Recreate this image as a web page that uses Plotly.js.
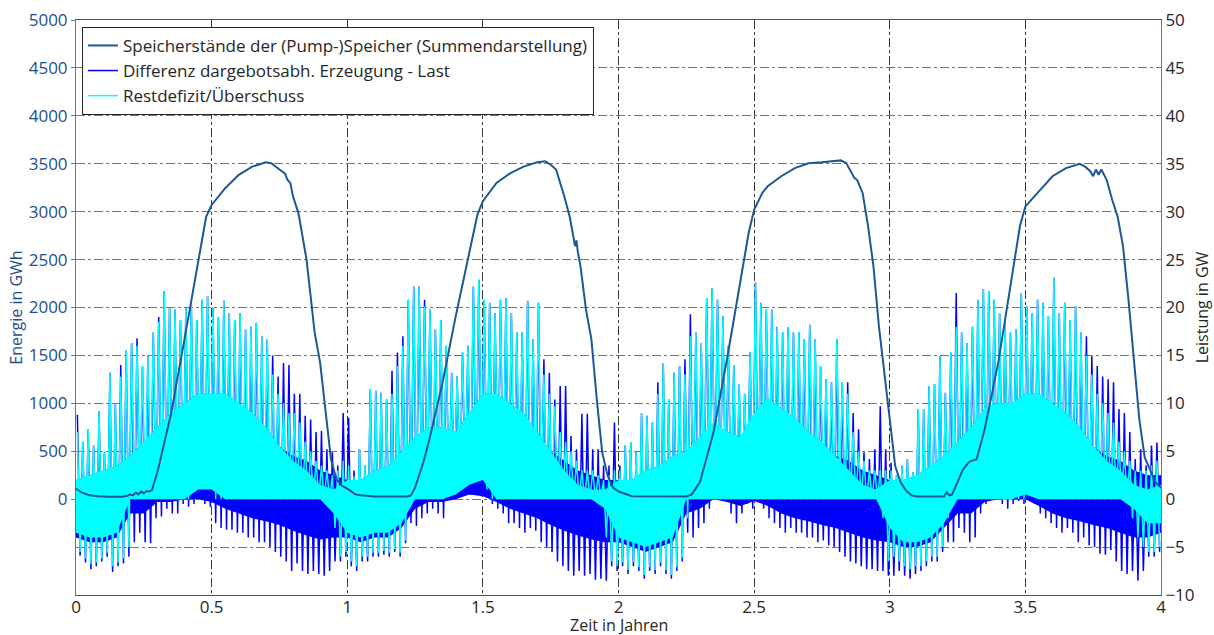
<!DOCTYPE html>
<html><head><meta charset="utf-8">
<script src="https://cdn.plot.ly/plotly-3.0.1.min.js"></script>
<style>html,body{margin:0;padding:0;background:#fff;}#chart{width:1214px;height:635px;}</style>
</head><body><div id="chart"></div>
<script>
// ---- Storage level (left axis, GWh) ----
const storageYears = [0,0.02,0.05,0.08,0.12,0.17,0.19,0.2,0.21,0.22,0.23,0.24,0.25,0.26,0.27,0.28,0.3,0.33,0.35,0.4,0.45,0.48,0.5,0.55,0.6,0.65,0.7,0.72,0.75,0.77,0.78,0.79,0.8,0.82,0.85,0.88,0.9,0.92,0.94,0.96,0.98,
1.0,1.03,1.05,1.1,1.22,1.235,1.25,1.28,1.3,1.35,1.4,1.45,1.48,1.5,1.55,1.6,1.65,1.7,1.73,1.75,1.77,1.8,1.82,1.84,1.845,1.85,1.86,1.88,1.9,1.92,1.94,1.96,1.98,
2.0,2.03,2.05,2.25,2.27,2.3,2.33,2.35,2.4,2.45,2.48,2.5,2.53,2.55,2.6,2.65,2.7,2.75,2.8,2.82,2.84,2.86,2.87,2.88,2.9,2.92,2.94,2.96,2.98,3.0,3.02,3.04,3.06,
3.08,3.1,3.2,3.21,3.22,3.23,3.25,3.27,3.29,3.3,3.32,3.35,3.4,3.45,3.48,3.5,3.55,3.6,3.65,3.7,3.72,3.74,3.75,3.76,3.77,3.78,3.8,3.82,3.84,3.86,3.88,3.9,3.92,3.94,3.96,3.98,4.0];
const storageGWh = [110,70,40,30,25,25,35,50,40,70,50,80,60,85,80,95,280,625,885,1670,2465,2950,3070,3245,3385,3470,3515,3505,3440,3400,3330,3300,3160,2985,2500,1735,1425,940,415,210,140,
110,50,40,28,28,40,120,380,590,1200,1910,2570,2970,3110,3300,3400,3470,3515,3525,3490,3440,3160,2950,2640,2700,2580,2430,1980,1670,1040,485,245,120,
80,45,30,28,50,175,485,695,1460,2290,2780,3020,3195,3265,3370,3455,3505,3515,3525,3535,3505,3400,3350,3330,3195,2850,2430,1805,1285,835,345,175,90,
40,28,28,70,40,50,175,310,380,400,415,730,1425,2290,2850,3055,3210,3370,3455,3500,3470,3420,3370,3440,3385,3440,3330,3125,2950,2640,2085,1460,835,435,310,175,120];

// ---- Power series (right axis, GW), peaks per 0.02-year bin ----
const binWidth = 0.02;
const diffHi = [8.8,6,7.3,5.6,9.2,4.9,13.2,10,14,15.5,16.3,16.8,13.9,15,17.4,19,21.7,20,19.8,18.7,20,20.5,18.7,20.8,21.2,20,19,20.7,19.4,18.7,19.4,17.7,18,18.4,17,16.7,15,12.8,14.2,14,11,11,8.7,8.3,7,7.1,5.2,4.9,3.5,9,
8.5,3,5.2,3.5,11.5,11.3,11.1,10.4,13.4,15.3,17,20.8,22.2,22.2,20.8,19.8,17.7,18.7,16,13.2,12.8,15.3,16,22.2,22.9,20.8,20.5,19.4,20.8,21,19.4,17.4,17.4,20.7,16.7,20.5,14.6,13.2,10.4,11.8,11.8,6.6,5.2,8.9,8.9,5.2,5.2,3.5,3.5,8,
3.5,5.6,5.9,4.9,9,8.7,8,12.2,14.2,10.4,13.2,13.9,14.6,19.3,17.4,16.3,21,22,20.8,19.1,16,14,12,11,15.3,22.6,20.5,19.8,19.8,18,17.4,17.9,17.4,17.4,16.7,18.2,16.7,13.9,12.5,12.2,16.7,12.2,12.2,9,7.3,4.9,4.2,5.2,9.7,5.2,
3.8,2.5,3.5,4.2,2.8,9.4,9.4,11.8,12,14.9,11.1,15.3,21.5,17.4,16.3,18,20.8,21.9,21.7,20.8,19.4,18.7,17.4,17.7,21.5,20.1,19.4,20.8,20.5,19.1,23.1,19.4,20.5,18.7,20.1,17.4,17,14.9,13.9,12.8,12.5,12.2,9.4,9,7,4.2,5.2,3.5,5.6,5.9];
const diffLo = [-5.9,-6.6,-7.3,-7,-6.5,-6,-7.6,-7,-6.7,-6,-4.5,-3.5,-4.5,-4.6,-2,-1.8,-1,-1.5,-1.5,-0.5,-0.8,-0.5,0,-0.5,-0.8,-2.5,-3,-3.2,-3.2,-3.5,-3.5,-4,-4,-4.5,-4.5,-5,-5.5,-6,-6.5,-7.5,-6.7,-7.5,-7.8,-7.5,-7.8,-8,-7.5,-6.5,-6.5,-6,
-7,-7.5,-6.5,-6.5,-6,-6,-5.8,-6,-5.5,-6,-4.6,-2.5,-2.8,-2,-1.5,-1,-1.5,-2,0,0.3,0.5,0.5,0.5,0.5,0.3,0.3,-0.5,-1,-1.5,-2.5,-2.5,-3,-3.5,-3,-3.3,-4.5,-5,-5.5,-6.5,-7,-7.5,-8,-7.5,-8,-7.8,-8.4,-8.3,-8.5,-7,-7.5,
-7,-7.8,-7,-7.5,-8.3,-7.5,-7.8,-7,-7.8,-8.3,-7.5,-6.5,-3.5,-4,-3,-2.5,-1,0,0.2,0.2,-1.5,-2.5,-1.5,-0.5,-1,-0.3,-1,-2,-2.5,-3,-3.5,-3,-3.5,-3.5,-4,-4,-4.5,-4.3,-4.8,-5,-5.5,-6,-6.5,-6.7,-7,-7.3,-7.3,-7.5,-7.5,-8,
-8,-7.5,-8,-8.3,-7.8,-7.5,-7,-6.5,-6.5,-5.5,-4.5,-4.5,-3,-3.5,-4.5,-4,-1.5,-0.5,0,0,-0.5,-1,-0.5,-0.2,-0.5,0,-0.5,-1.5,-2,-2.5,-3,-3.5,-3,-3.5,-4.5,-4,-4.8,-5,-5.7,-5.8,-5.3,-6.5,-7.5,-7.8,-7.5,-8.5,-7.5,-6,-6,-5.5];
const restHi = [7,6,7.3,5.6,9.2,4.9,13.2,10,12.8,15.5,16.3,16,13.9,15,17.4,18.5,21.7,20,19.8,18.7,20,20.5,18.7,20.8,21.2,20,19,20.7,19.4,18.7,19.4,17.7,18,18.4,17,16.7,13,11,10,9,9,8,6,5,4,3.5,3,2.5,3,4,
3.5,2.4,5.2,3.5,11.5,11.3,11.1,10.4,11,13.9,16,20.8,22.2,22.2,20.1,19.8,17.7,18.7,16,13.2,12.8,15.3,16,22.2,22.9,20.8,20.5,19.4,20.8,21,19.4,17.4,17.4,20.7,16.7,20.5,13,11,9.7,7,6,5,4,3,3,3,2.5,2,2.5,3,
3,5.6,5.9,4.9,9,8.7,8,11,14.2,10.4,13.2,13.9,13,17,17.4,16.3,21,22,20.8,19.1,16,14,12,11,15.3,22.6,20.5,19.8,19.8,18,17.4,17.9,17.4,17.4,16.7,18.2,16.7,13.9,12.5,12.2,16.7,12.2,11,7,5,4,3,3,3,3,
3,2.5,3.5,4.2,2.8,9.4,9.4,11.8,12,14.9,11.1,15.3,18,17.4,16.3,18,20.8,21.9,21.7,20.8,19.4,18.7,17.4,17.7,21.5,20.1,19.4,20.8,20.5,19.1,23.1,19.4,20.5,18.7,20.1,17.4,15,13,11,10,9,8,6,5,4,3,3,3,3.5,4];
const restLo = [-5.5,-6.2,-6.8,-6.6,-6.2,-5.6,-7,-6.6,-6.2,-5,0,0,0,0,0,0,0,0,0,0,0,1,1.2,1.3,1.2,0,0,0,0,0,0,0,0,0,0,0,0,0,0,0,0,0,0,0,0,0,0,-3,-6,-5.5,
-6.5,-7,-6,-6,-5.6,-5.6,-5.4,-5.6,-5.2,-5.6,-4.3,0,0,0,0,0,0,0,1,1.5,1.5,2,2.5,2.5,2,1,0,0,0,0,0,0,0,0,0,0,0,0,0,0,0,0,0,0,0,0,0,-4,-6.5,-7,
-6.6,-7.4,-6.6,-7.1,-7.9,-7.1,-7.4,-6.6,-7.4,-7.9,-7.1,-6.1,-2,0,0,0,0,0,0,0,0,0,0,0,0,0,0,0,0,0,0,0,0,0,0,0,0,0,0,0,0,0,0,0,0,0,0,0,-2,-6.5,
-6,-6.5,-7,-7.3,-7,-7,-6.5,-6,-6,-5,-2,0,0,0,0,0,0,0,0,0,0,0,0,0,0,1,0.5,0,0,0,0,0,0,0,0,0,0,0,0,0,0,0,0,0,-2,-4,-5,-5.5,-5.5,-5];

// ---- Dense body of the power series (GW), every 0.05 years ----
const bodyStep = 0.05;
const diffBodyUp = [2,2.5,3,3.5,4.5,6,7.5,9,10,11,11,11,10,9,7.5,5.5,4.5,4,3,2.5,
 2,2,3,3.5,5,6.5,7.5,7.5,7,9,11,11,10,9,7,5,4,3,2.5,2,
 2,2,3,3.5,4.5,5,6.5,8,7,6.5,9,10.5,9.5,8.5,7,6,4.5,4,3,2.5,
 2,2,2.5,3.5,4.5,6,7.5,9.5,10,10,11,11,10,9,7.5,5.5,4.5,4,3,2.5,2.5];
const diffBodyLo = [-4,-4.5,-4.5,-4,-1.5,-1.5,-0.3,-0.3,0,0,-0.3,-1,-1.5,-2,-2.3,-2.7,-3.3,-3.8,-4.2,-4,
 -4,-4.5,-4,-4,-3,-1,-0.3,-0.3,0,0.5,0.3,-0.3,-1,-1.5,-2,-2.7,-3.3,-3.8,-4.2,-4.5,
 -4.5,-5,-5.5,-5,-4.5,-1.5,-1,0,-0.3,-0.7,-0.2,-0.7,-1.5,-2,-2.3,-2.7,-3,-3.5,-4,-4.3,
 -4.5,-5,-5,-4.5,-3,-1.5,-1.5,-0.3,0,0,0,-0.7,-1.5,-2,-2.3,-2.7,-3,-3.5,-4,-4,-3.5];
const restBodyUp = [2,2.5,3,3.5,4.5,6,7.5,9,10,11,11,11,10,9,7.5,5.5,4,3,1.5,1,
 2,2,3,3.5,5,6.5,7.5,7.5,7,9,11,11,10,9,7,5,3,1.5,1,1,
 2,2,3,3.5,4.5,5,6.5,8,7,6.5,9,10.5,9.5,8.5,7,6,4.5,3,1.5,1,
 2,2,2.5,3.5,4.5,6,7.5,9.5,10,10,11,11,10,9,7.5,5.5,4,3,1.5,1,1.5];
const restBodyLo = [-3.5,-4,-4,-3.5,0,0,0,0,0,1,1,0,0,0,0,0,0,0,0,-1.5,
 -3.5,-4,-3.5,-3.5,-2.5,0,0,0,0.5,1.5,2,0,0,0,0,0,0,0,0,-1,
 -4,-4.5,-5,-4.5,-4,0,0,0,0,0,0,0,0,0,0,0,0,0,0,0,
 -3,-4.5,-4.5,-4,-2.5,0,0,0,0,0,0.5,0,0,0,0,0,0,0,-1,-2.5,-2.5];

// ---- Axis ticks ----
const xTicks = [0,0.5,1,1.5,2,2.5,3,3.5,4];
const xTickLabels = ['0','0.5','1','1.5','2','2.5','3','3.5','4'];
const energyTicks = [0,500,1000,1500,2000,2500,3000,3500,4000,4500,5000];
const powerTicks = [-10,-5,0,5,10,15,20,25,30,35,40,45,50];

const names = {
  stor: 'Speicherstände der (Pump-)Speicher (Summendarstellung)',
  diff: 'Differenz dargebotsabh. Erzeugung - Last',
  rest: 'Restdefizit/Überschuss'
};

function zigzag(hi, lo) {
  const x = [], y = [];
  for (let i = 0; i < hi.length; i++) {
    const c = binWidth * (i + 0.5);
    x.push(c - binWidth / 4, c + binWidth / 4);
    y.push(hi[i], lo[i]);
  }
  return {x, y};
}
const bodyYears = diffBodyUp.map((_, i) => +(i * bodyStep).toFixed(2));
const dz = zigzag(diffHi, diffLo);
const rz = zigzag(restHi, restLo);

const BLUE = '#0000ff', CYAN = '#00ffff', STOR = '#1d5896';
const band = (y, color, fill) => ({x: bodyYears, y, type: 'scatter', mode: 'lines', line: {width: 0, color},
  fill: fill ? 'tonexty' : 'none', fillcolor: color, showlegend: false, hoverinfo: 'skip', yaxis: 'y'});

const traces = [
  band(diffBodyLo, BLUE, false),
  band(diffBodyUp, BLUE, true),
  {x: dz.x, y: dz.y, type: 'scatter', mode: 'lines', line: {width: 1.5, color: BLUE}, name: names.diff, legendrank: 2, yaxis: 'y'},
  band(restBodyLo, CYAN, false),
  band(restBodyUp, CYAN, true),
  {x: rz.x, y: rz.y, type: 'scatter', mode: 'lines', line: {width: 1.5, color: CYAN}, name: names.rest, legendrank: 3, yaxis: 'y'},
  {x: storageYears, y: storageGWh, type: 'scatter', mode: 'lines', line: {width: 2, color: STOR}, name: names.stor, legendrank: 1, yaxis: 'y2'}
];

const FONT = 'Open Sans, Segoe UI, sans-serif';
const AX_BLUE = '#1f4e8c';
const layout = {
  width: 1214, height: 635,
  margin: {l: 76, r: 53, t: 20, b: 40, pad: 0},
  paper_bgcolor: '#ffffff', plot_bgcolor: '#ffffff',
  font: {family: FONT, size: 16, color: '#262626'},
  showlegend: true,
  legend: {x: 0.0055, y: 0.988, xanchor: 'left', yanchor: 'top', bgcolor: '#ffffff', bordercolor: '#262626', borderwidth: 1,
    font: {family: FONT, size: 17, color: '#262626'}, traceorder: 'normal', itemwidth: 30},
  xaxis: {range: [0, 4], tickmode: 'array', tickvals: xTicks, ticktext: xTickLabels, showgrid: true, gridcolor: '#3a3a3a', griddash: 'dashdot', gridwidth: 1,
    showline: true, linecolor: '#555555', linewidth: 1, mirror: true, ticks: '', zeroline: false, automargin: false,
    ticklabelstandoff: -3,
    tickfont: {family: FONT, size: 17, color: '#262626'}},
  yaxis: {range: [-10, 50], side: 'right', tickmode: 'array', tickvals: powerTicks, showgrid: true, gridcolor: '#4d7db3', griddash: 'dashdot', gridwidth: 1,
    showline: true, linecolor: '#4d7db3', linewidth: 1, ticks: '', zeroline: false, automargin: false,
    tickfont: {family: FONT, size: 17, color: '#262626'},
    title: {text: 'Leistung in GW', standoff: 3, font: {family: FONT, size: 16, color: '#262626'}}},
  yaxis2: {range: [-1000, 5000], overlaying: 'y', side: 'left', tickmode: 'array', tickvals: energyTicks, showgrid: false,
    showline: true, linecolor: '#4d7db3', linewidth: 1, ticks: 'outside', ticklen: 4, tickcolor: '#4d7db3', zeroline: false, automargin: false,
    tickfont: {family: FONT, size: 17, color: AX_BLUE},
    title: {text: 'Energie in GWh', standoff: 2, font: {family: FONT, size: 16, color: AX_BLUE}}},
  annotations: [{text: 'Zeit in Jahren', xref: 'paper', yref: 'paper', x: 0.5, y: -0.0522, xanchor: 'center', yanchor: 'middle',
    showarrow: false, borderpad: 0, font: {family: FONT, size: 16, color: '#262626'}}]
};

Plotly.newPlot('chart', traces, layout, {displayModeBar: false, staticPlot: true});
</script>
</body></html>
